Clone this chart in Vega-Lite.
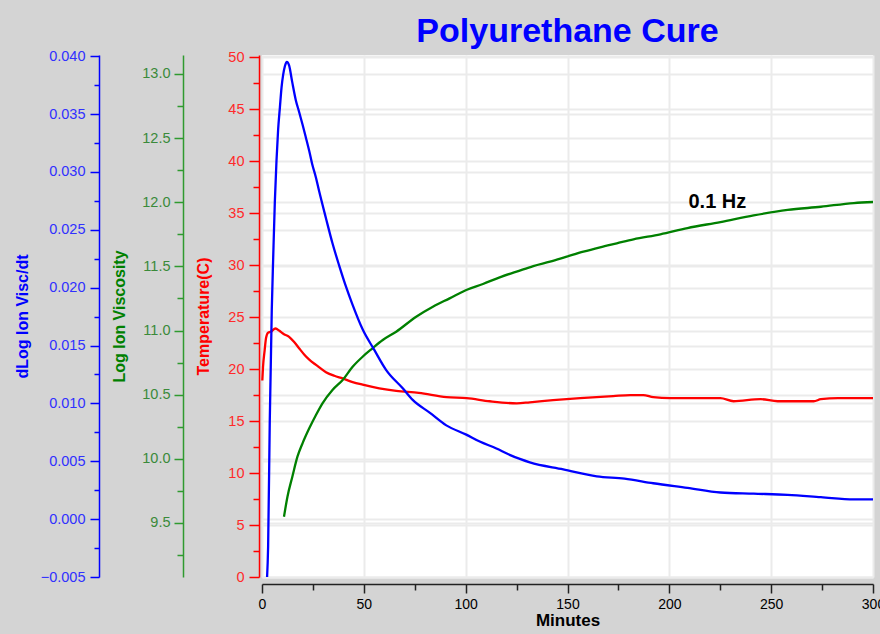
{
  "$schema": "https://vega.github.io/schema/vega-lite/v6.json",
  "autosize": {"type": "none"},
  "width": 611,
  "height": 522,
  "padding": {"left": 262, "top": 55, "right": 7, "bottom": 57},
  "background": "#d4d4d4",
  "config": {
    "font": "Liberation Sans",
    "view": {"fill": "#ffffff", "stroke": null},
    "axis": {"labelFlush": false, "labelOverlap": false, "domainWidth": 1.5, "tickWidth": 1.5, "gridColor": "#ebebeb", "gridWidth": 2, "labelFont": "Liberation Sans", "titleFont": "Liberation Sans"}
  },
  "title": {"text": "Polyurethane Cure", "color": "#0000ff", "fontSize": 34, "fontWeight": "bold", "font": "Liberation Sans", "anchor": "middle", "frame": "group", "baseline": "alphabetic", "offset": -28},
  "datasets": {
    "temp": [
      {"minute": 0.15, "value": 18.9}, {"minute": 0.5, "value": 20.2}, {"minute": 1.3, "value": 21.8}, {"minute": 2.0, "value": 23.0},
      {"minute": 3.0, "value": 23.5}, {"minute": 4.4, "value": 23.6}, {"minute": 6.0, "value": 23.85}, {"minute": 6.7, "value": 23.9},
      {"minute": 8.4, "value": 23.7}, {"minute": 10.8, "value": 23.35}, {"minute": 13.3, "value": 23.1}, {"minute": 15.8, "value": 22.6},
      {"minute": 18.2, "value": 22.0}, {"minute": 20.7, "value": 21.4}, {"minute": 23.2, "value": 20.9}, {"minute": 26.5, "value": 20.4},
      {"minute": 31.4, "value": 19.7}, {"minute": 35.5, "value": 19.35}, {"minute": 39.6, "value": 19.1}, {"minute": 44.5, "value": 18.75},
      {"minute": 49.4, "value": 18.5}, {"minute": 57.6, "value": 18.15}, {"minute": 65.9, "value": 17.9}, {"minute": 77.0, "value": 17.7},
      {"minute": 90.6, "value": 17.3}, {"minute": 100.5, "value": 17.2}, {"minute": 111.8, "value": 16.9}, {"minute": 125.1, "value": 16.7},
      {"minute": 131.5, "value": 16.8}, {"minute": 142.9, "value": 17.0}, {"minute": 156.2, "value": 17.2}, {"minute": 172.4, "value": 17.4},
      {"minute": 180.8, "value": 17.5}, {"minute": 187.2, "value": 17.5}, {"minute": 192.1, "value": 17.3}, {"minute": 200.5, "value": 17.2},
      {"minute": 225.1, "value": 17.2}, {"minute": 231.5, "value": 16.9}, {"minute": 244.8, "value": 17.1}, {"minute": 253.2, "value": 16.9},
      {"minute": 270.9, "value": 16.9}, {"minute": 274.4, "value": 17.1}, {"minute": 282.8, "value": 17.2}, {"minute": 300, "value": 17.2}
    ],
    "visc": [
      {"minute": 10.8, "value": 9.549}, {"minute": 12.5, "value": 9.705}, {"minute": 14.9, "value": 9.861}, {"minute": 17.4, "value": 10.017},
      {"minute": 19.9, "value": 10.121}, {"minute": 23.2, "value": 10.238}, {"minute": 26.5, "value": 10.342}, {"minute": 29.7, "value": 10.433},
      {"minute": 34.6, "value": 10.537}, {"minute": 39.6, "value": 10.615}, {"minute": 44.5, "value": 10.718}, {"minute": 49.4, "value": 10.796},
      {"minute": 54.3, "value": 10.862}, {"minute": 59.3, "value": 10.926}, {"minute": 65.9, "value": 10.991}, {"minute": 75.7, "value": 11.108},
      {"minute": 83.9, "value": 11.186}, {"minute": 92.1, "value": 11.251}, {"minute": 100.3, "value": 11.316}, {"minute": 108.5, "value": 11.363},
      {"minute": 116.7, "value": 11.415}, {"minute": 125.0, "value": 11.459}, {"minute": 133.2, "value": 11.503}, {"minute": 141.4, "value": 11.537},
      {"minute": 149.6, "value": 11.576}, {"minute": 157.8, "value": 11.615}, {"minute": 166.0, "value": 11.649}, {"minute": 174.2, "value": 11.68},
      {"minute": 182.4, "value": 11.711}, {"minute": 195.6, "value": 11.75}, {"minute": 208.9, "value": 11.799}, {"minute": 225.1, "value": 11.846},
      {"minute": 241.4, "value": 11.898}, {"minute": 258.1, "value": 11.94}, {"minute": 274.4, "value": 11.965}, {"minute": 290.6, "value": 11.994},
      {"minute": 300, "value": 12.002}
    ],
    "deriv": [
      {"minute": 2.5, "value": -0.005}, {"minute": 3.0, "value": -0.0024}, {"minute": 3.8, "value": 0.0083}, {"minute": 4.8, "value": 0.0181},
      {"minute": 5.5, "value": 0.0226}, {"minute": 6.3, "value": 0.0274}, {"minute": 7.1, "value": 0.0309}, {"minute": 7.9, "value": 0.0336},
      {"minute": 8.8, "value": 0.0356}, {"minute": 9.6, "value": 0.0373}, {"minute": 10.4, "value": 0.0384}, {"minute": 11.2, "value": 0.0391},
      {"minute": 12.2, "value": 0.0395}, {"minute": 13.3, "value": 0.0392}, {"minute": 14.8, "value": 0.0378}, {"minute": 16.6, "value": 0.0362},
      {"minute": 18.2, "value": 0.0352}, {"minute": 19.9, "value": 0.0341}, {"minute": 21.5, "value": 0.033}, {"minute": 23.2, "value": 0.0318},
      {"minute": 24.6, "value": 0.0307}, {"minute": 26.5, "value": 0.0295}, {"minute": 28.1, "value": 0.0283}, {"minute": 31.4, "value": 0.026},
      {"minute": 34.5, "value": 0.0239}, {"minute": 37.9, "value": 0.0219}, {"minute": 41.2, "value": 0.0201}, {"minute": 44.3, "value": 0.0186},
      {"minute": 49.4, "value": 0.0164}, {"minute": 55.2, "value": 0.0146}, {"minute": 60.9, "value": 0.0129}, {"minute": 69.1, "value": 0.0113},
      {"minute": 74.0, "value": 0.0103}, {"minute": 82.3, "value": 0.0092}, {"minute": 90.5, "value": 0.0081}, {"minute": 100.3, "value": 0.0073},
      {"minute": 106.9, "value": 0.0067}, {"minute": 115.1, "value": 0.0061}, {"minute": 121.0, "value": 0.0056}, {"minute": 126.6, "value": 0.0052},
      {"minute": 131.5, "value": 0.0049}, {"minute": 147.9, "value": 0.0043}, {"minute": 164.4, "value": 0.0037}, {"minute": 178.0, "value": 0.0035},
      {"minute": 192.1, "value": 0.0031}, {"minute": 208.9, "value": 0.0027}, {"minute": 225.1, "value": 0.0023}, {"minute": 241.4, "value": 0.0022},
      {"minute": 258.1, "value": 0.0021}, {"minute": 274.4, "value": 0.0019}, {"minute": 290.6, "value": 0.0017}, {"minute": 300, "value": 0.0017}
    ],
    "note": [{"minute": 223.6, "value": 12.0, "label": "0.1 Hz"}]
  },
  "encoding": {
    "x": {
      "field": "minute", "type": "quantitative",
      "scale": {"domain": [0, 300], "nice": false, "zero": false},
      "axis": {
        "title": "Minutes", "titleFontSize": 17, "titleFontWeight": "bold", "titleColor": "#000000", "titlePadding": 1,
        "offset": 7,
        "values": [0, 25, 50, 75, 100, 125, 150, 175, 200, 225, 250, 275, 300],
        "labelExpr": "datum.value % 50 === 0 ? datum.label : ''",
        "tickSize": {"condition": {"test": "datum.value % 50 === 0", "value": 9}, "value": 6},
        "grid": true,
        "gridOpacity": {"condition": {"test": "datum.value % 50 === 0", "value": 1}, "value": 0},
        "domainColor": "#222222", "tickColor": "#222222", "labelColor": "#000000", "labelFontSize": 14, "labelPadding": 4
      }
    }
  },
  "layer": [
    {
      "data": {"name": "temp"},
      "mark": {"type": "line", "color": "#ff0000", "strokeWidth": 2.3, "interpolate": "monotone"},
      "encoding": {
        "y": {
          "field": "value", "type": "quantitative",
          "scale": {"domain": [0, 50.2], "nice": false, "zero": false},
          "axis": {
            "orient": "left", "offset": 3,
            "title": "Temperature(C)", "titleColor": "#ff0000", "titleFontSize": 16, "titleFontWeight": "bold", "titlePadding": 16,
            "values": [0, 2.5, 5, 7.5, 10, 12.5, 15, 17.5, 20, 22.5, 25, 27.5, 30, 32.5, 35, 37.5, 40, 42.5, 45, 47.5, 50],
            "labelExpr": "datum.value % 5 === 0 ? format(datum.value, 'd') : ''",
            "tickSize": {"condition": {"test": "datum.value % 5 === 0", "value": 10}, "value": 6},
            "grid": true,
            "gridOpacity": {"condition": {"test": "datum.value % 5 === 0", "value": 1}, "value": 0},
            "domainColor": "#ff0000", "tickColor": "#ff0000", "labelColor": "#ff2a2a", "labelFontSize": 14.5, "labelPadding": 5
          }
        }
      }
    },
    {
      "data": {"name": "visc"},
      "mark": {"type": "line", "color": "#008000", "strokeWidth": 2.3, "interpolate": "monotone"},
      "encoding": {
        "y": {
          "field": "value", "type": "quantitative",
          "scale": {"domain": [9.079, 13.148], "nice": false, "zero": false},
          "axis": {
            "orient": "left", "offset": 79,
            "title": "Log Ion Viscosity", "titleColor": "#008000", "titleFontSize": 16, "titleFontWeight": "bold", "titlePadding": 14,
            "values": [9.25, 9.5, 9.75, 10, 10.25, 10.5, 10.75, 11, 11.25, 11.5, 11.75, 12, 12.25, 12.5, 12.75, 13],
            "labelExpr": "datum.value % 0.5 === 0 ? format(datum.value, '.1f') : ''",
            "tickSize": {"condition": {"test": "datum.value % 0.5 === 0", "value": 9}, "value": 6},
            "grid": true,
            "gridOpacity": {"condition": {"test": "datum.value % 0.5 === 0", "value": 1}, "value": 0},
            "domainColor": "#2f9a2f", "tickColor": "#2f9a2f", "labelColor": "#3a8a3a", "labelFontSize": 14.5, "labelPadding": 4
          }
        }
      }
    },
    {
      "data": {"name": "deriv"},
      "mark": {"type": "line", "color": "#0000ff", "strokeWidth": 2.3, "interpolate": "monotone"},
      "encoding": {
        "y": {
          "field": "value", "type": "quantitative",
          "scale": {"domain": [-0.005, 0.0401], "nice": false, "zero": false},
          "axis": {
            "orient": "left", "offset": 163,
            "title": "dLog Ion Visc/dt", "titleColor": "#0000ff", "titleFontSize": 16, "titleFontWeight": "bold", "titlePadding": 10,
            "values": [-0.005, -0.0025, 0, 0.0025, 0.005, 0.0075, 0.01, 0.0125, 0.015, 0.0175, 0.02, 0.0225, 0.025, 0.0275, 0.03, 0.0325, 0.035, 0.0375, 0.04],
            "labelExpr": "abs(datum.value * 200 - round(datum.value * 200)) < 0.001 ? format(datum.value, '.3f') : ''",
            "tickSize": {"condition": {"test": "abs(datum.value * 200 - round(datum.value * 200)) < 0.001", "value": 9}, "value": 5},
            "grid": true,
            "gridOpacity": {"condition": {"test": "abs(datum.value * 200 - round(datum.value * 200)) < 0.001", "value": 1}, "value": 0},
            "domainColor": "#0000ff", "tickColor": "#0000ff", "labelColor": "#3030ff", "labelFontSize": 14.5, "labelPadding": 5
          }
        }
      }
    },
    {
      "data": {"name": "note"},
      "mark": {"type": "text", "color": "#000000", "fontSize": 20, "fontWeight": "bold", "font": "Liberation Sans", "align": "center", "baseline": "middle"},
      "encoding": {
        "y": {"field": "value", "type": "quantitative", "scale": {"domain": [9.079, 13.148], "nice": false, "zero": false}, "axis": null},
        "text": {"field": "label"}
      }
    }
  ],
  "resolve": {"scale": {"y": "independent"}, "axis": {"y": "independent"}}
}
